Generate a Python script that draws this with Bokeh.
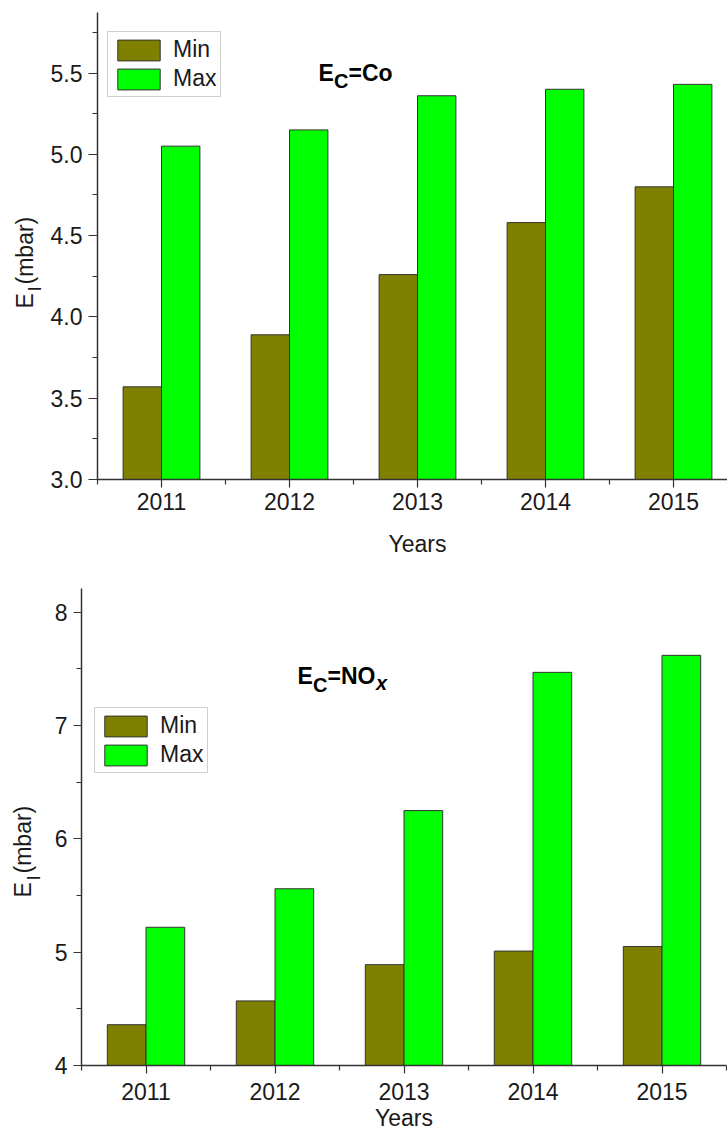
import math
from bokeh.plotting import figure
from bokeh.models import Range1d, FixedTicker, Label, Legend, LegendItem, ColumnDataSource
from bokeh.layouts import column
from bokeh.transform import dodge
from bokeh.embed import file_html
from bokeh.resources import INLINE

# ---------------- data ----------------
years = [2011, 2012, 2013, 2014, 2015]
year_labels = ["2011", "2012", "2013", "2014", "2015"]
series = ["Min", "Max"]
co_min = [3.57, 3.89, 4.26, 4.58, 4.80]
co_max = [5.05, 5.15, 5.36, 5.40, 5.43]
nox_min = [4.36, 4.57, 4.89, 5.01, 5.05]
nox_max = [5.22, 5.56, 6.25, 7.47, 7.62]
co_yticks = [3.0, 3.5, 4.0, 4.5, 5.0, 5.5]
co_ylabels = ["3.0", "3.5", "4.0", "4.5", "5.0", "5.5"]
co_yminor = [3.25, 3.75, 4.25, 4.75, 5.25, 5.75]
nox_yticks = [4, 5, 6, 7, 8]
nox_ylabels = ["4", "5", "6", "7", "8"]
nox_yminor = [4.5, 5.5, 6.5, 7.5]
x_minor = [2010.5, 2011.5, 2012.5, 2013.5, 2014.5, 2015.5]

COLORS = ["#808000", "#00ff00"]
FONT = "Liberation Sans"
AX = "#333333"
TXT = "#1a1a1a"
X0 = 2010.5  # left end of the category axis


def style_axis(a, tick_out, std):
    a.axis_line_color = AX
    a.axis_line_width = 1.5
    a.major_tick_line_color = AX
    a.minor_tick_line_color = AX
    a.major_tick_line_width = 1.2
    a.minor_tick_line_width = 1.2
    a.major_tick_in = 0
    a.major_tick_out = tick_out
    a.minor_tick_in = 0
    a.minor_tick_out = 5
    a.major_label_text_font = FONT
    a.major_label_text_font_size = "23px"
    a.major_label_text_color = TXT
    a.major_label_standoff = std


def build(vmin, vmax, xr, yr, base, ytop, yticks, ylabels, yminor, h,
          leg_xy, ytick_out, xlab_std, years_y):
    p = figure(width=727, height=h, x_range=Range1d(*xr), y_range=Range1d(*yr),
               output_backend="svg", toolbar_location=None,
               min_border_left=0, min_border_right=0, min_border_top=0,
               min_border_bottom=0)
    p.outline_line_color = None
    p.xgrid.visible = False
    p.ygrid.visible = False
    p.background_fill_color = "white"

    src = ColumnDataSource(dict(year=years, mn=vmin, mx=vmax))
    r1 = p.vbar(x=dodge("year", -0.15), top="mn", bottom=base, width=0.3,
                source=src, fill_color=COLORS[0], line_color=AX, line_width=1)
    r2 = p.vbar(x=dodge("year", 0.15), top="mx", bottom=base, width=0.3,
                source=src, fill_color=COLORS[1], line_color=AX, line_width=1)

    # x axis drawn at the base value of the bars
    xa = p.xaxis[0]
    xa.fixed_location = base
    xa.bounds = (X0, X0 + 5)
    xa.ticker = FixedTicker(ticks=years, minor_ticks=x_minor)
    xa.major_label_overrides = {y: l for y, l in zip(years, year_labels)}
    style_axis(xa, 8, xlab_std)

    # y axis drawn at the left end of the category axis
    ya = p.yaxis[0]
    ya.fixed_location = X0
    ya.bounds = (base, ytop)
    ya.ticker = FixedTicker(ticks=yticks, minor_ticks=yminor)
    ya.major_label_overrides = {t: l for t, l in zip(yticks, ylabels)}
    style_axis(ya, ytick_out, 6)

    p.add_layout(Label(x=2013, y=years_y, text="Years", text_font=FONT,
                       text_font_size="23px", text_color=TXT, text_align="center",
                       text_baseline="middle"))

    leg = Legend(items=[LegendItem(label=series[0], renderers=[r1]),
                        LegendItem(label=series[1], renderers=[r2])],
                 location=leg_xy)
    leg.label_text_font = FONT
    leg.label_text_font_size = "23px"
    leg.label_text_color = TXT
    leg.glyph_width = 53
    leg.glyph_height = 26
    leg.label_height = 26
    leg.spacing = 2
    leg.padding = 4
    leg.margin = 0
    leg.label_standoff = 8
    leg.border_line_color = "#a0a0a0"
    leg.border_line_width = 1.5
    leg.background_fill_color = "white"
    leg.background_fill_alpha = 1.0
    p.add_layout(leg)
    return p


def ylabel(p, x, y):
    common = dict(angle=math.pi / 2, text_font=FONT, text_color=TXT,
                  text_align="left", text_baseline="middle")
    p.add_layout(Label(x=x, y=y, text="E", text_font_size="23px", **common))
    p.add_layout(Label(x=x, y=y, text="I", text_font_size="19px",
                       x_offset=10, y_offset=17, **common))
    p.add_layout(Label(x=x, y=y, text="(mbar)", text_font_size="23px",
                       y_offset=24, **common))


def title(p, x, y, parts):
    off = 0.0
    for text, size, dy, style, w in parts:
        p.add_layout(Label(x=x, y=y, text=text, text_font=FONT,
                           text_font_size=size, text_font_style=style,
                           text_color="black", text_align="left",
                           text_baseline="middle", x_offset=off, y_offset=dy))
        off += w


H1, H2 = 568, 565
# top panel (page y 0..568): axes cross at px (97, 479); 128 px/year, 162.6 px/unit
S1 = 162.6
p1 = build(co_min, co_max, (X0 - 97 / 128, X0 + 630 / 128),
           (3.0 - (H1 - 479) / S1, 3.0 + 479 / S1), 3.0, 3.0 + 467 / S1,
           co_yticks, co_ylabels, co_yminor, h=H1,
           leg_xy=(107, H1 - 97), ytick_out=9, xlab_std=5,
           years_y=3.0 - (543 - 479) / S1)
title(p1, 2012.227, 5.500, [("E", "23px", 0, "bold", 15.5),
                            ("C", "20px", -7.5, "bold", 14.5),
                            ("=Co", "23px", 0, "bold", 0)])
ylabel(p1, 2009.93, 4.052)

# bottom panel (page y 568..1133): axes cross at px (81, 1065); 129 px/year, 113.3 px/unit
S2 = 113.3
p2 = build(nox_min, nox_max, (X0 - 81 / 129, X0 + 646 / 129),
           (4.0 - (1133 - 1065) / S2, 4.0 + (1065 - 568) / S2), 4.0, 4.0 + 477 / S2,
           nox_yticks, nox_ylabels, nox_yminor, h=H2,
           leg_xy=(94, 1133 - 773), ytick_out=8, xlab_std=9,
           years_y=4.0 - (1117 - 1065) / S2)
title(p2, 2012.174, 7.442, [("E", "23px", 0, "bold", 15.5),
                            ("C", "20px", -9, "bold", 14.5),
                            ("=NO", "23px", 0, "bold", 48.5),
                            ("x", "20px", -7, "bold italic", 0)])
ylabel(p2, 2010.05, 5.483)

layout = column(p1, p2)
open("out.html", "w").write(file_html(layout, INLINE))
